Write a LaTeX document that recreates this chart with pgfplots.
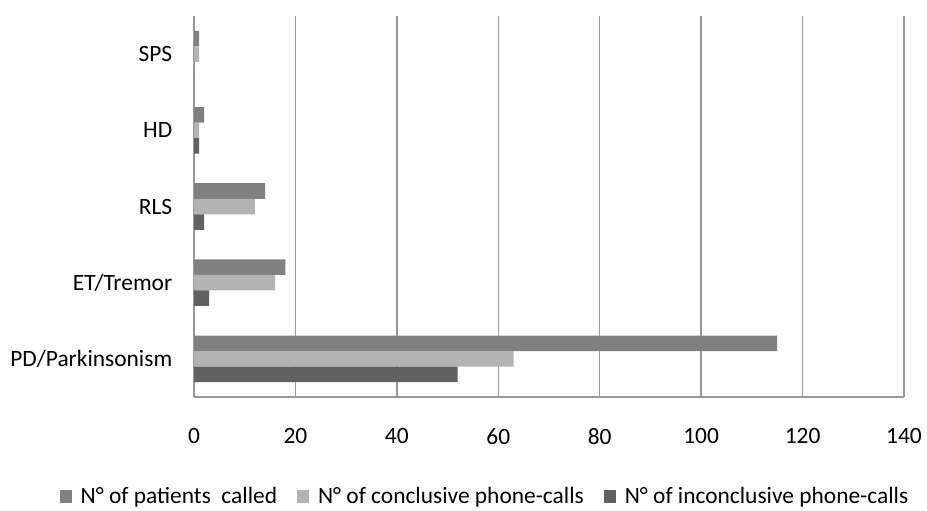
\documentclass[border=0pt]{standalone}
\usepackage{fontspec}
\setmainfont{Carlito}
\usepackage{pgfplots}
\pgfplotsset{compat=1.18}
\definecolor{called}{HTML}{808080}
\definecolor{concl}{HTML}{B3B3B3}
\definecolor{inconcl}{HTML}{616161}
\definecolor{gridc}{HTML}{999999}
\begin{document}
\begin{tikzpicture}
\begin{axis}[
  at={(194bp,114bp)}, anchor=south west,
  scale only axis,
  width=710bp, height=381bp,
  xbar, bar width=15.5bp,
  xmin=0, xmax=140,
  ymin=-0.5, ymax=4.5,
  xtick={0,20,...,140},
  ytick={0,1,2,3,4},
  yticklabels={PD/Parkinsonism,ET/Tremor,RLS,HD,SPS},
  xmajorgrids,
  major grid style={gridc, line width=1.4bp},
  axis x line*=bottom, axis y line*=left,
  axis line style={gridc, line width=1.4bp, -},
  tick style={draw=none},
  tick label style={font=\fontsize{23.5}{27}\selectfont, text=black},
  /pgf/number format/assume math mode=true,
  xticklabel style={yshift=-28bp},
  yticklabel style={xshift=-14bp},
  legend style={draw=none, font=\fontsize{23.5}{27}\selectfont,
    at={(291bp,-99bp)}, anchor=center, legend columns=-1,
    /tikz/every even column/.append style={column sep=18bp},
    /tikz/every odd column/.append style={column sep=7bp}},
  legend image code/.code={\fill[#1] (0bp,-7bp) rectangle (12bp,6bp);},
]
\addplot[fill=called, draw=none, bar shift=15.5bp] coordinates {(115,0) (18,1) (14,2) (2,3) (1,4)};
\addplot[fill=concl, draw=none, bar shift=0bp] coordinates {(63,0) (16,1) (12,2) (1,3) (1,4)};
\addplot[fill=inconcl, draw=none, bar shift=-15.5bp] coordinates {(52,0) (3,1) (2,2) (1,3) (0,4)};
\legend{N° of patients\ \ called, N° of conclusive phone-calls, N° of inconclusive phone-calls}
\end{axis}
\pgfresetboundingbox
\path (0,0) rectangle (927bp,511bp);
\end{tikzpicture}
\end{document}
